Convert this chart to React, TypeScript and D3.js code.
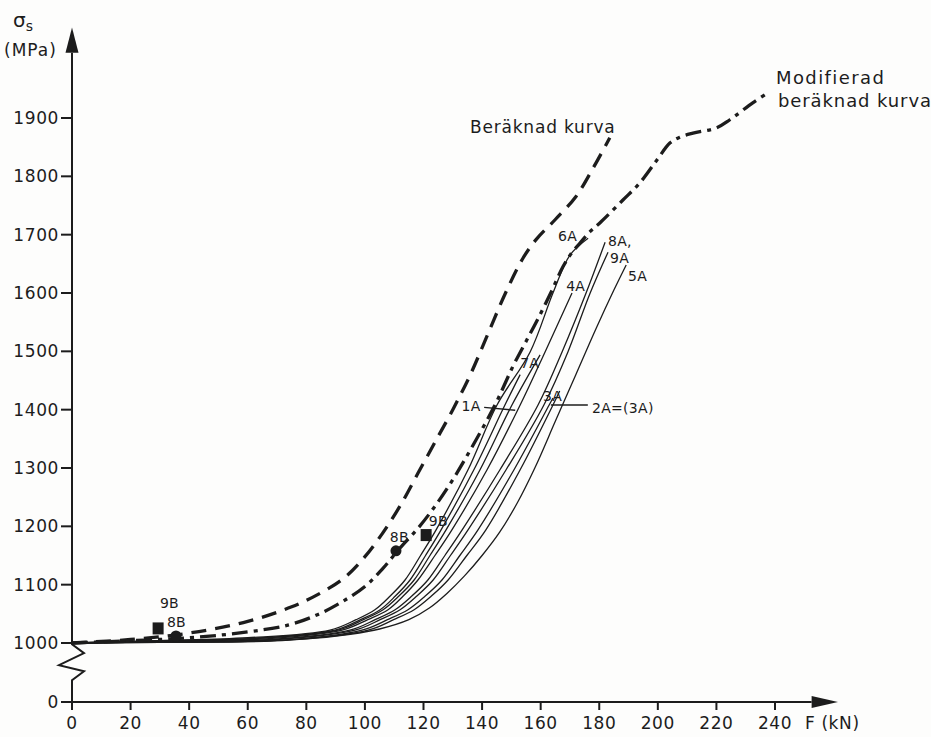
import React from 'react';
import * as d3 from 'd3';

const W = 931;
const H = 737;

// Axis ticks
const xTickValues = [0, 20, 40, 60, 80, 100, 120, 140, 160, 180, 200, 220, 240];
const yTickValues = [0, 1000, 1100, 1200, 1300, 1400, 1500, 1600, 1700, 1800, 1900];

// Calculated curve (dashed): F in kN, sigma in MPa
const calcF = [0, 20, 40, 60, 75, 85, 93, 100, 106, 112, 118, 124, 130, 136, 142, 148, 154, 158.5, 165, 172, 178, 183.6];
const calcS = [1000, 1006, 1017, 1037, 1062, 1086, 1112, 1148, 1188, 1235, 1290, 1345, 1400, 1460, 1530, 1600, 1660, 1692, 1726, 1765, 1815, 1866];

// Modified calculated curve (dash-dot)
const modF = [0, 40, 60, 74, 84, 92, 100, 106, 112, 118, 124, 130, 136, 144.4, 150.6, 155, 159, 163.8, 167.6, 170.5, 173.5, 177, 180.2, 188, 193.9, 199.7, 204.1, 207.5, 212, 220, 224.6, 232.4, 237.5];
const modS = [1000, 1009, 1019, 1031, 1049, 1070, 1097, 1127, 1163, 1196, 1235, 1280, 1331, 1408, 1475, 1517, 1555, 1604, 1645, 1668, 1686, 1706, 1720, 1759, 1789, 1828, 1857, 1867, 1874, 1883, 1897, 1926, 1943];

// Measured specimens (solid)
const f6A = [0, 30, 60, 88.1, 97, 103.4, 108.5, 113.7, 119, 124.3, 135.2, 145.1, 156.4, 164.2, 170, 176.2];
const s6A = [1000, 1004, 1009, 1022, 1040, 1057, 1080, 1108, 1150, 1194, 1297, 1408, 1499, 1600, 1665, 1694];
const f1A = [0, 30, 62, 89.8, 98.5, 105.2, 110.3, 115.4, 120.7, 126, 137.2, 147.8, 153];
const s1A = [1000, 1004, 1008, 1022, 1040, 1057, 1080, 1108, 1150, 1194, 1297, 1408, 1460];
const f7A = [0, 30, 64, 90.8, 99.5, 106.2, 111.5, 116.8, 122.2, 127.7, 139.3, 150.2, 159.8];
const s7A = [1000, 1003, 1008, 1022, 1040, 1057, 1080, 1108, 1150, 1194, 1297, 1408, 1494];
const f4A = [0, 30, 66, 92.2, 101, 107.9, 113, 118.1, 123.9, 129.7, 141.7, 153, 161.5, 170.7];
const s4A = [1000, 1003, 1007, 1022, 1040, 1057, 1080, 1108, 1150, 1194, 1297, 1408, 1499, 1600];
const f8A = [0, 30, 68, 94.9, 103.5, 110.3, 115.9, 121.5, 127.3, 133.2, 146.1, 159.1, 167.3, 175.5, 182];
const s8A = [1000, 1002, 1006, 1022, 1040, 1057, 1080, 1108, 1150, 1194, 1297, 1408, 1499, 1600, 1687];
const f9A = [0, 30, 70, 96.6, 105.2, 112, 117.6, 123.3, 129.2, 135.2, 148.2, 161.1, 169.3, 176.9, 183];
const s9A = [1000, 1002, 1006, 1022, 1040, 1057, 1080, 1108, 1150, 1194, 1297, 1408, 1499, 1600, 1670];
const f3A = [0, 30, 72, 99, 107.7, 114.7, 120.5, 126.3, 132.4, 138.6, 150.9, 162.9, 164.2];
const s3A = [1000, 1002, 1005, 1022, 1040, 1057, 1080, 1108, 1150, 1194, 1297, 1408, 1420];
const f2A = [0, 30, 74, 101.1, 109.8, 116.8, 122.6, 128.4, 134.8, 141.3, 153, 164.2, 166.5];
const s2A = [1000, 1001, 1005, 1022, 1040, 1057, 1080, 1108, 1150, 1194, 1297, 1408, 1432];
const f5A = [0, 30, 60, 80, 95, 105, 115, 122, 128, 134, 140, 146, 152, 158, 165, 172, 179, 185, 189.2];
const s5A = [1000, 1001, 1003, 1007, 1015, 1024, 1040, 1060, 1085, 1115, 1150, 1190, 1240, 1300, 1380, 1460, 1540, 1605, 1648];

// B-specimen points
const squaresF = [29.4, 120.9];
const squaresS = [1025, 1185];
const circlesF = [35.5, 110.6];
const circlesS = [1012, 1158];

// Text annotations (anchor in data units)
const labelText = ['6A', '8A,', '9A', '5A', '4A', '7A', '1A', '3A', '2A=(3A)', '8B', '9B', '9B', '8B'];
const labelF = [165.9, 183, 183.7, 189.8, 168.7, 153, 133, 160.8, 177.5, 108.5, 121.8, 30, 32.4];
const labelS = [1689, 1680, 1651, 1620, 1603, 1471, 1398, 1415, 1394, 1174, 1200, 1060, 1027];

const zip = (a: number[], b: number[]): [number, number][] => a.map((v, i) => [v, b[i]]);

export default function App() {
  const x = d3.scaleLinear().domain([0, 240]).range([72, 775]);
  const y = d3.scaleLinear().domain([0, 1000, 1900]).range([702, 643, 118]);

  const line = d3
    .line<[number, number]>()
    .x((d) => x(d[0]))
    .y((d) => y(d[1]))
    .curve(d3.curveCatmullRom.alpha(0.5));

  const ink = '#1c1c1c';
  const font = "'DejaVu Sans', 'Liberation Sans', sans-serif";

  const solids = [
    zip(f6A, s6A),
    zip(f1A, s1A),
    zip(f7A, s7A),
    zip(f4A, s4A),
    zip(f8A, s8A),
    zip(f9A, s9A),
    zip(f3A, s3A),
    zip(f2A, s2A),
    zip(f5A, s5A),
  ];

  const x0 = x(0);
  const yZero = y(0);
  const yAxisTop = y(2012);
  const yAxisTip = y(2055);
  const xAxisEnd = x(252.5);
  const xAxisTip = x(261.5);

  // axis break zigzag between 0 and 1000
  const yb1 = y(980);
  const zig = [
    [x0, y(1000)],
    [x0, yb1],
    [x0 + 12, yb1 + 9],
    [x0 - 13, yb1 + 21],
    [x0 + 12, yb1 + 27],
    [x0, yb1 + 36],
    [x0, yZero],
  ];

  return (
    <svg
      width={W}
      height={H}
      style={{ position: 'absolute', left: 0, top: 0, background: '#fdfdfc' }}
      fontFamily={font}
    >
      <rect width={W} height={H} fill="#fdfdfc" />

      {/* y axis */}
      <line x1={x0} y1={y(1000)} x2={x0} y2={yAxisTop} stroke={ink} strokeWidth={2} />
      <polyline points={zig.map((p) => p.join(',')).join(' ')} fill="none" stroke={ink} strokeWidth={2} />
      <polygon
        points={`${x0 - 6.5},${yAxisTop} ${x0 + 6.5},${yAxisTop} ${x0},${yAxisTip}`}
        fill={ink}
      />
      {yTickValues.map((v) => (
        <g key={'yt' + v}>
          <line x1={x0 - 11} x2={x0} y1={y(v)} y2={y(v)} stroke={ink} strokeWidth={2} />
          <text
            x={x0 - 13}
            y={y(v)}
            dy="0.36em"
            textAnchor="end"
            fontSize={17}
            fill={ink}
            letterSpacing={0.6}
          >
            {v}
          </text>
        </g>
      ))}

      {/* x axis */}
      <line x1={x0} y1={yZero} x2={xAxisEnd} y2={yZero} stroke={ink} strokeWidth={2} />
      <polygon
        points={`${xAxisEnd},${yZero - 6} ${xAxisEnd},${yZero + 6} ${xAxisTip},${yZero}`}
        fill={ink}
      />
      {xTickValues.map((v) => (
        <g key={'xt' + v}>
          <line x1={x(v)} x2={x(v)} y1={yZero} y2={yZero + 8} stroke={ink} strokeWidth={2} />
          <text x={x(v)} y={yZero + 27} textAnchor="middle" fontSize={17} fill={ink} letterSpacing={0.6}>
            {v}
          </text>
        </g>
      ))}

      {/* axis titles */}
      <text x={13} y={27} fontSize={20} fill={ink}>
        σ<tspan fontSize={14} dy={4}>s</tspan>
      </text>
      <text x={4} y={56} fontSize={17} fill={ink} letterSpacing={1}>
        (MPa)
      </text>
      <text x={805} y={729} fontSize={17} fill={ink} letterSpacing={0.6}>
        F (kN)
      </text>

      {/* measured curves */}
      {solids.map((pts, i) => (
        <path key={'s' + i} d={line(pts) || ''} fill="none" stroke={ink} strokeWidth={1.3} />
      ))}

      {/* calculated curve */}
      <path
        d={line(zip(calcF, calcS)) || ''}
        fill="none"
        stroke={ink}
        strokeWidth={3.3}
        strokeDasharray="15 9"
      />
      {/* modified calculated curve */}
      <path
        d={line(zip(modF, modS)) || ''}
        fill="none"
        stroke={ink}
        strokeWidth={3.3}
        strokeDasharray="16 6 4 6"
      />

      {/* B-specimen markers */}
      {squaresF.map((f, i) => (
        <rect key={'sq' + i} x={x(f) - 5.5} y={y(squaresS[i]) - 6} width={11} height={12} fill={ink} />
      ))}
      {circlesF.map((f, i) => (
        <circle key={'ci' + i} cx={x(f)} cy={y(circlesS[i])} r={5.5} fill={ink} />
      ))}

      {/* leaders */}
      <line x1={x(140.7)} y1={y(1404)} x2={x(151.3)} y2={y(1399)} stroke={ink} strokeWidth={1.3} />
      <line x1={x(163.5)} y1={y(1408)} x2={x(176.1)} y2={y(1408)} stroke={ink} strokeWidth={1.3} />

      {/* curve labels */}
      {labelText.map((t, i) => (
        <text key={'l' + i} x={x(labelF[i])} y={y(labelS[i])} fontSize={14} fill={ink} letterSpacing={0.3}>
          {t}
        </text>
      ))}

      <text x={470} y={133} fontSize={17} fill={ink} letterSpacing={0.8}>
        Beräknad kurva
      </text>
      <text x={776} y={84} fontSize={18} fill={ink} letterSpacing={1.4}>
        Modifierad
      </text>
      <text x={778} y={107} fontSize={18} fill={ink} letterSpacing={0.9}>
        beräknad kurva
      </text>
    </svg>
  );
}
